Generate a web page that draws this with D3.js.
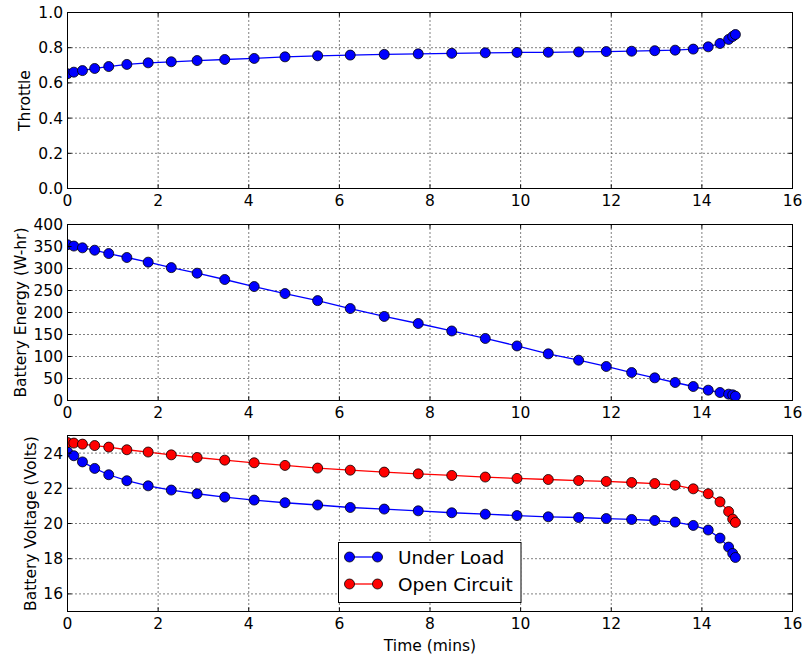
<!DOCTYPE html>
<html>
<head>
<meta charset="utf-8">
<script src="https://cdn.jsdelivr.net/npm/d3@7"></script>
<style>
  html, body { margin: 0; padding: 0; background: #fff; }
  svg { display: block; font-family: "DejaVu Sans", sans-serif; }
</style>
</head>
<body>
<svg id="chart" width="804" height="655"></svg>
<script>
// Flight log: elapsed time (minutes) for each sample
const timeMins = [0, 0.14, 0.33, 0.60, 0.91, 1.31, 1.78, 2.29, 2.86, 3.47, 4.12, 4.80, 5.52, 6.24, 6.99, 7.74, 8.48, 9.22, 9.92, 10.61, 11.28, 11.89, 12.45, 12.96, 13.41, 13.81, 14.14, 14.40, 14.59, 14.68, 14.74];

// Throttle setting (fraction)
const throttle = [0.652, 0.661, 0.670, 0.682, 0.693, 0.705, 0.714, 0.720, 0.727, 0.733, 0.739, 0.748, 0.754, 0.758, 0.762, 0.765, 0.768, 0.771, 0.773, 0.774, 0.776, 0.778, 0.780, 0.783, 0.786, 0.792, 0.805, 0.824, 0.847, 0.864, 0.875];

// Remaining battery energy (W-hr)
const energy = [354, 351, 347, 341.6, 334, 325, 314.4, 302, 289.4, 275, 259, 243, 227, 209, 191, 175, 158, 141, 124, 106, 91.6, 77.3, 63.6, 51.5, 40.9, 31.8, 23.5, 18.2, 14.4, 12.9, 9.8];

// Battery voltage under load and at open circuit (Volts)
const voltUnderLoad = [24.07, 23.85, 23.50, 23.13, 22.77, 22.43, 22.14, 21.90, 21.69, 21.50, 21.33, 21.18, 21.05, 20.91, 20.82, 20.72, 20.61, 20.53, 20.45, 20.38, 20.34, 20.28, 20.23, 20.17, 20.08, 19.89, 19.63, 19.17, 18.66, 18.30, 18.07];
const voltOpenCircuit = [24.60, 24.57, 24.51, 24.43, 24.34, 24.19, 24.06, 23.90, 23.75, 23.60, 23.45, 23.30, 23.15, 23.03, 22.92, 22.82, 22.73, 22.64, 22.56, 22.50, 22.44, 22.39, 22.33, 22.27, 22.18, 21.97, 21.69, 21.23, 20.68, 20.25, 20.06];

// Axis ticks
const xTicks = [0, 2, 4, 6, 8, 10, 12, 14, 16];
const throttleTicks = [0.0, 0.2, 0.4, 0.6, 0.8, 1.0];
const energyTicks = [0, 50, 100, 150, 200, 250, 300, 350, 400];
const voltTicks = [16, 18, 20, 22, 24];

const seriesNames = ["Under Load", "Open Circuit"];
const seriesColors = ["#0000ff", "#ff0000"];

const svg = d3.select("#chart");
const left = 67.5, right = 792.5;
const x = d3.scaleLinear().domain([0, 16]).range([left, right]);

const panels = [
  { top: 12.5, bottom: 188.5, domain: [0, 1], ticks: throttleTicks, fmt: d3.format(".1f"),
    label: "Throttle", labelX: 24,
    series: [{ values: throttle, color: seriesColors[0] }] },
  { top: 224.5, bottom: 400.5, domain: [0, 400], ticks: energyTicks, fmt: d3.format("d"),
    label: "Battery Energy (W-hr)", labelX: 20,
    series: [{ values: energy, color: seriesColors[0] }] },
  { top: 435.5, bottom: 611.5, domain: [15, 25], ticks: voltTicks, fmt: d3.format("d"),
    label: "Battery Voltage (Volts)", labelX: 30,
    series: [{ values: voltUnderLoad, color: seriesColors[0] },
             { values: voltOpenCircuit, color: seriesColors[1] }] }
];

const fontSize = 15.5;

panels.forEach((p, i) => {
  const y = d3.scaleLinear().domain(p.domain).range([p.bottom, p.top]);
  const g = svg.append("g");
  const clipId = "clip" + i;
  svg.append("clipPath").attr("id", clipId)
    .append("rect").attr("x", left).attr("y", p.top)
    .attr("width", right - left).attr("height", p.bottom - p.top);

  // dotted grid
  const grid = g.append("g").attr("stroke", "#000").attr("stroke-width", 1)
    .attr("stroke-dasharray", "1,3");
  xTicks.forEach(t => {
    grid.append("line").attr("x1", x(t)).attr("x2", x(t))
      .attr("y1", p.top).attr("y2", p.bottom);
  });
  p.ticks.forEach(t => {
    grid.append("line").attr("x1", left).attr("x2", right)
      .attr("y1", y(t)).attr("y2", y(t));
  });

  // data lines and markers
  const plot = g.append("g").attr("clip-path", `url(#${clipId})`);
  const line = d3.line().x((d, k) => x(timeMins[k])).y(d => y(d));
  p.series.forEach(s => {
    plot.append("path").datum(s.values)
      .attr("fill", "none").attr("stroke", s.color).attr("stroke-width", 1.3)
      .attr("d", line);
  });
  p.series.forEach(s => {
    plot.selectAll(null).data(s.values).enter().append("circle")
      .attr("cx", (d, k) => x(timeMins[k])).attr("cy", d => y(d))
      .attr("r", 5).attr("fill", s.color)
      .attr("stroke", "#000").attr("stroke-width", 0.8);
  });

  // frame
  g.append("rect").attr("x", left).attr("y", p.top)
    .attr("width", right - left).attr("height", p.bottom - p.top)
    .attr("fill", "none").attr("stroke", "#000").attr("stroke-width", 1);

  // inward ticks on all sides
  const tk = g.append("g").attr("stroke", "#000").attr("stroke-width", 1);
  xTicks.forEach(t => {
    tk.append("line").attr("x1", x(t)).attr("x2", x(t)).attr("y1", p.bottom).attr("y2", p.bottom - 4);
    tk.append("line").attr("x1", x(t)).attr("x2", x(t)).attr("y1", p.top).attr("y2", p.top + 4);
  });
  p.ticks.forEach(t => {
    tk.append("line").attr("x1", left).attr("x2", left + 4).attr("y1", y(t)).attr("y2", y(t));
    tk.append("line").attr("x1", right).attr("x2", right - 4).attr("y1", y(t)).attr("y2", y(t));
  });

  // tick labels
  g.append("g").selectAll("text").data(xTicks).enter().append("text")
    .attr("x", d => x(d)).attr("y", p.bottom + 17)
    .attr("text-anchor", "middle").attr("font-size", fontSize).attr("fill", "#000")
    .text(d => d);
  g.append("g").selectAll("text").data(p.ticks).enter().append("text")
    .attr("x", left - 4.5).attr("y", d => y(d)).attr("dy", "0.36em")
    .attr("text-anchor", "end").attr("font-size", fontSize).attr("fill", "#000")
    .text(d => p.fmt(d));

  // y axis label
  g.append("text")
    .attr("transform", `translate(${p.labelX},${(p.top + p.bottom) / 2}) rotate(-90)`)
    .attr("dy", "0.36em").attr("text-anchor", "middle")
    .attr("font-size", fontSize).attr("fill", "#000").text(p.label);

  if (i === 2) {
    g.append("text").attr("x", (left + right) / 2).attr("y", 651)
      .attr("text-anchor", "middle").attr("font-size", fontSize).attr("fill", "#000")
      .text("Time (mins)");

    // legend
    const lg = g.append("g");
    lg.append("rect").attr("x", 338.5).attr("y", 542.5).attr("width", 182.5).attr("height", 60)
      .attr("fill", "#fff").attr("stroke", "#000").attr("stroke-width", 1);
    seriesNames.forEach((name, k) => {
      const ly = 557 + k * 27;
      lg.append("line").attr("x1", 349.5).attr("x2", 377.5).attr("y1", ly).attr("y2", ly)
        .attr("stroke", seriesColors[k]).attr("stroke-width", 1.3);
      [349.5, 377.5].forEach(cx => {
        lg.append("circle").attr("cx", cx).attr("cy", ly).attr("r", 5)
          .attr("fill", seriesColors[k]).attr("stroke", "#000").attr("stroke-width", 0.8);
      });
      lg.append("text").attr("x", 398).attr("y", ly).attr("dy", "0.36em")
        .attr("font-size", 18.5).attr("fill", "#000").text(name);
    });
  }
});
</script>
</body>
</html>
